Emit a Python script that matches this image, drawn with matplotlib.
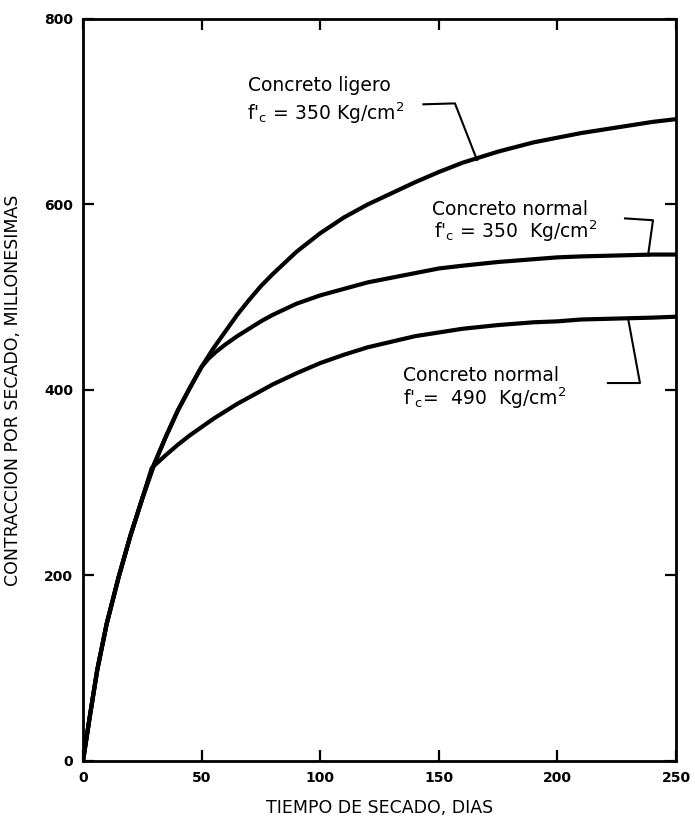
import matplotlib
matplotlib.use("Agg")
import matplotlib.pyplot as plt

# data (days, shrinkage in millionths)
dias_ligero = [0, 3, 6, 10, 15, 20, 25, 30, 35, 40, 45, 50, 55, 60, 65, 70, 75, 80, 90, 100,
               110, 120, 130, 140, 150, 160, 175, 190, 200, 210, 225, 240, 250]
ligero = [0, 50, 98, 148, 198, 243, 283, 320, 350, 378, 402, 425, 445, 463, 481, 497, 512, 525, 549, 569,
          586, 600, 612, 624, 635, 645, 657, 667, 672, 677, 683, 689, 692]

dias_n350 = [0, 3, 6, 10, 15, 20, 25, 30, 35, 40, 45, 50, 53, 56, 60, 65, 70, 75, 80, 90, 100,
             110, 120, 130, 140, 150, 160, 175, 190, 200, 210, 225, 240, 250]
normal_350 = [0, 50, 98, 148, 198, 243, 283, 320, 350, 378, 402, 425, 434, 441, 449, 458, 466, 474, 481, 493, 502,
              509, 516, 521, 526, 531, 534, 538, 541, 543, 544, 545, 546, 546]

dias_n490 = [0, 3, 6, 10, 15, 20, 25, 29, 32, 35, 40, 45, 50, 55, 60, 65, 70, 75, 80, 90, 100,
             110, 120, 130, 140, 150, 160, 175, 190, 200, 210, 225, 240, 250]
normal_490 = [0, 50, 98, 148, 198, 243, 283, 316, 323, 330, 341, 351, 360, 369, 377, 385, 392, 399, 406, 418, 429,
              438, 446, 452, 458, 462, 466, 470, 473, 474, 476, 477, 478, 479]

x_ticks = [0, 50, 100, 150, 200, 250]
y_ticks = [0, 200, 400, 600, 800]

fig = plt.figure(figsize=(6.95, 8.18), dpi=100)
ax = fig.add_axes([0.1194, 0.0697, 0.8533, 0.9071])

lw = 3.0
for d, v in [(dias_ligero, ligero), (dias_n350, normal_350), (dias_n490, normal_490)]:
    ax.plot(d, v, color="black", lw=lw, solid_capstyle="round", solid_joinstyle="round")

ax.set_xlim(0, 250)
ax.set_ylim(0, 800)
ax.set_xticks(x_ticks)
ax.set_yticks(y_ticks)
ax.tick_params(direction="in", length=8, width=1.6, top=True, right=True,
               labelsize=10, pad=7, colors="black")
for lab in ax.get_xticklabels() + ax.get_yticklabels():
    lab.set_fontweight("bold")
for s in ax.spines.values():
    s.set_linewidth(2.0)

ax.set_xlabel("TIEMPO DE SECADO, DIAS", fontsize=12.5, labelpad=10)
ax.set_ylabel("CONTRACCION POR SECADO, MILLONESIMAS", fontsize=12.5, labelpad=16)

# annotations
fs = 13.5
fc = r"f'$_{\mathregular{c}}$"
sq = r"$^{\mathregular{2}}$"
ax.text(69.6, 722, "Concreto ligero", fontsize=fs, ha="left", va="baseline")
ax.text(69.0, 691, fc + " = 350 Kg/cm" + sq, fontsize=fs, ha="left", va="baseline")
ax.plot([166.1, 156.8, 143.5], [648, 709, 708], color="black", lw=1.5)

ax.text(147.0, 589, "Concreto normal", fontsize=fs, ha="left", va="baseline")
ax.text(148.0, 564, fc + " = 350  Kg/cm" + sq, fontsize=fs, ha="left", va="baseline")
ax.plot([238.2, 240.3, 228.5], [545, 583, 585], color="black", lw=1.5)

ax.text(135.0, 410, "Concreto normal", fontsize=fs, ha="left", va="baseline")
ax.text(135.0, 384, fc + "=  490  Kg/cm" + sq, fontsize=fs, ha="left", va="baseline")
ax.plot([229.8, 234.8, 221.3], [477, 407.5, 407.5], color="black", lw=1.5)

fig.savefig("out.png", dpi=100)
